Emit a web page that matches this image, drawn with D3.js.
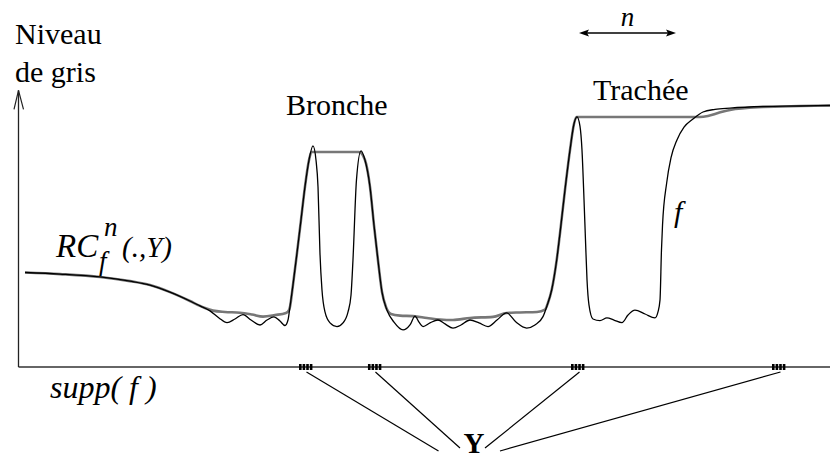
<!DOCTYPE html>
<html>
<head>
<meta charset="utf-8">
<script src="https://cdn.jsdelivr.net/npm/d3@7"></script>
<style>
  body { margin: 0; background: #fff; }
  svg { display: block; }
  text { font-family: "Liberation Serif", "Times New Roman", Times, serif; }
</style>
</head>
<body>
<div id="chart"></div>
<script>
// position along the support (0-100) and grey level (0-100)
const fPos = [0.74, 5.06, 10.0, 13.69, 16.15, 18.62, 21.08, 22.32, 23.55, 24.66, 25.65, 26.63, 27.62, 28.61, 29.72, 30.58,
  31.44, 32.18, 32.80, 33.17, 33.41, 33.78, 34.28, 34.77, 35.26, 35.76, 36.25, 36.62, 36.87, 37.11, 37.36, 37.73,
  38.35, 39.21, 39.95, 40.57, 40.94, 41.18, 41.61, 42.17, 42.66, 43.28, 43.77, 44.26, 44.76, 45.37, 46.24, 47.35,
  48.21, 48.83, 49.32, 49.82, 50.68, 51.66, 52.53, 53.51, 54.50, 55.61, 56.72, 57.83, 58.94, 60.13, 61.28, 62.60,
  63.62, 64.61, 65.10, 65.68, 66.30, 66.71, 67.32, 67.94, 68.43, 68.80, 69.17, 69.42, 69.67, 69.85, 70.04, 70.28,
  70.77, 71.64, 72.50, 73.36, 74.35, 75.09, 75.95, 77.19, 78.42, 78.79, 79.04, 79.22, 79.35, 79.86, 80.39, 81.13,
  82.00, 83.10, 84.34, 85.82, 87.67, 91.74, 96.30, 100.0];
const fLevel = [36.2, 35.6, 34.5, 32.9, 31.4, 28.7, 25.3, 23.4, 21.5, 18.8, 17.0, 18.4, 20.1, 18.0, 16.1, 18.0,
  19.2, 17.6, 15.9, 18.0, 23.0, 31.4, 43.7, 56.3, 69.0, 79.3, 84.7, 79.3, 69.0, 43.7, 29.5, 21.1,
  16.9, 15.5, 16.9, 21.1, 27.6, 41.0, 71.6, 82.8, 79.3, 69.0, 54.4, 41.0, 28.7, 21.8, 17.2, 14.2,
  16.1, 19.5, 17.2, 15.5, 16.9, 18.0, 16.5, 14.9, 16.1, 18.0, 16.9, 15.5, 18.0, 20.7, 17.2, 14.9,
  16.1, 19.3, 23.4, 29.5, 41.0, 51.3, 67.8, 83.1, 93.1, 95.8, 92.3, 83.1, 64.0, 48.7, 33.3, 23.8,
  18.4, 17.8, 18.8, 18.0, 17.0, 19.9, 21.8, 20.3, 18.8, 21.1, 25.7, 44.8, 54.4, 70.5, 80.1, 87.0,
  91.9, 95.0, 97.7, 98.7, 99.2, 99.8, 100.0, 100.2];

// reconstruction RC_f^n(.,Y)
const rcPos = [0.74, 5.06, 10.0, 13.69, 16.15, 18.62, 21.08, 22.32, 22.93, 23.92, 25.40, 27.25, 28.73, 30.09, 31.57,
  32.92, 33.29, 33.41, 33.78, 34.28, 34.77, 35.26, 35.76, 36.07, 41.92, 42.66, 43.28, 43.77, 44.26, 44.76, 45.25,
  45.87, 46.98, 48.58, 50.31, 51.91, 53.51, 55.61, 58.44, 60.13, 61.77, 63.87, 64.86, 65.22, 65.68, 66.30, 66.71,
  67.32, 67.94, 68.43, 68.74, 83.97, 84.95, 86.19, 87.67, 91.74, 96.30, 100.0];
const rcLevel = [36.2, 35.6, 34.5, 32.9, 31.4, 28.7, 25.3, 23.4, 22.6, 21.6, 21.1, 20.8, 20.1, 19.3, 19.9,
  20.7, 21.8, 23.0, 31.4, 43.7, 56.3, 69.0, 79.3, 82.4, 82.4, 79.3, 69.0, 54.4, 41.0, 28.7, 23.0,
  20.3, 19.7, 19.5, 18.8, 18.2, 18.0, 18.8, 19.2, 20.7, 20.9, 21.1, 22.0, 24.5, 29.5, 41.0, 51.3,
  67.8, 83.1, 93.1, 95.8, 95.8, 96.2, 97.3, 98.5, 99.6, 100.0, 100.2];

// markers of the set Y on supp(f)
const yMarkers = [35.39, 43.89, 68.93, 93.71];

const width = 830, height = 459;

const x = d3.scaleLinear().domain([0, 100]).range([19, 830]);
const y = d3.scaleLinear().domain([0, 100]).range([367, 106]);

const svg = d3.select("#chart")
  .append("svg")
  .attr("width", width)
  .attr("height", height);

const fData = fPos.map((p, i) => ({ p, v: fLevel[i] }));
const rcData = rcPos.map((p, i) => ({ p, v: rcLevel[i] }));

const line = d3.line()
  .x(d => x(d.p))
  .y(d => y(d.v))
  .curve(d3.curveMonotoneX);

// axes
svg.append("line")
  .attr("x1", x(0) - 0.5).attr("x2", x(100))
  .attr("y1", y(0)).attr("y2", y(0))
  .attr("stroke", "#333").attr("stroke-width", 1.6);

const yTop = y(106);
svg.append("line")
  .attr("x1", x(0) - 0.5).attr("x2", x(0) - 0.5)
  .attr("y1", y(0)).attr("y2", yTop)
  .attr("stroke", "#222").attr("stroke-width", 1.3);
svg.append("path")
  .attr("d", `M${x(0) - 5},${yTop + 19} L${x(0) - 0.5},${yTop} L${x(0) + 4.5},${yTop + 19}`)
  .attr("fill", "none").attr("stroke", "#222").attr("stroke-width", 1.2);

// grey reconstruction below, f above
svg.append("path")
  .datum(rcData)
  .attr("fill", "none")
  .attr("stroke", "#777")
  .attr("stroke-width", 2.6)
  .attr("d", line);

svg.append("path")
  .datum(fData)
  .attr("fill", "none")
  .attr("stroke", "#000")
  .attr("stroke-width", 1.3)
  .attr("d", line);

// Y markers: four little bars each
yMarkers.forEach(m => {
  const x0 = x(m) - 7;
  for (let k = 0; k < 4; k++) {
    svg.append("rect")
      .attr("x", x0 + k * 3.6)
      .attr("y", y(0) - 3)
      .attr("width", 2.6)
      .attr("height", 6)
      .attr("fill", "#000");
  }
});

// lines from markers to the Y label
const labelX = 474, labelY = 453;
const ends = [[-35.5, -2], [-14, -5], [11, -5], [26, -2]];
yMarkers.forEach((m, i) => {
  svg.append("line")
    .attr("x1", x(m) + (i < 2 ? 0.5 : 1.5))
    .attr("y1", y(0) + 5)
    .attr("x2", labelX + ends[i][0])
    .attr("y2", labelY + ends[i][1])
    .attr("stroke", "#000")
    .attr("stroke-width", 1.2);
});

svg.append("text")
  .attr("x", labelX).attr("y", labelY)
  .attr("text-anchor", "middle")
  .style("font-size", "29px")
  .style("font-weight", "bold")
  .text("Y");

// titles
svg.append("text").attr("x", 15).attr("y", 44).style("font-size", "30px").text("Niveau");
svg.append("text").attr("x", 15).attr("y", 82).style("font-size", "30px").text("de gris");
svg.append("text").attr("x", 286).attr("y", 115).style("font-size", "30px").text("Bronche");
svg.append("text").attr("x", 593).attr("y", 100).style("font-size", "30px").text("Trachée");

// n arrow
const ay = 33, ax1 = 579, ax2 = 676;
svg.append("line")
  .attr("x1", ax1 + 4).attr("x2", ax2 - 4)
  .attr("y1", ay).attr("y2", ay)
  .attr("stroke", "#000").attr("stroke-width", 1.3);
svg.append("path")
  .attr("d", `M${ax1},${ay} L${ax1 + 10},${ay - 3.5} L${ax1 + 8},${ay} L${ax1 + 10},${ay + 3.5} Z`)
  .attr("fill", "#000");
svg.append("path")
  .attr("d", `M${ax2},${ay} L${ax2 - 10},${ay - 3.5} L${ax2 - 8},${ay} L${ax2 - 10},${ay + 3.5} Z`)
  .attr("fill", "#000");
svg.append("text")
  .attr("x", (ax1 + ax2) / 2).attr("y", 26)
  .attr("text-anchor", "middle")
  .style("font-size", "27px").style("font-style", "italic")
  .text("n");

// f label
svg.append("text")
  .attr("x", 674).attr("y", 222)
  .style("font-size", "30px").style("font-style", "italic")
  .text("f");

// RC_f^n(.,Y)
const rc = svg.append("g").style("font-style", "italic");
rc.append("text").attr("x", 56).attr("y", 257).style("font-size", "33px").text("RC");
rc.append("text").attr("x", 104).attr("y", 236).style("font-size", "27px").text("n");
rc.append("text").attr("x", 99).attr("y", 270).style("font-size", "27px").text("f");
rc.append("text").attr("x", 122).attr("y", 257).style("font-size", "29px").text("(.,Y)");

// supp(f)
svg.append("text")
  .attr("x", 50).attr("y", 398)
  .style("font-size", "32px").style("font-style", "italic")
  .text("supp( f )");
</script>
</body>
</html>
